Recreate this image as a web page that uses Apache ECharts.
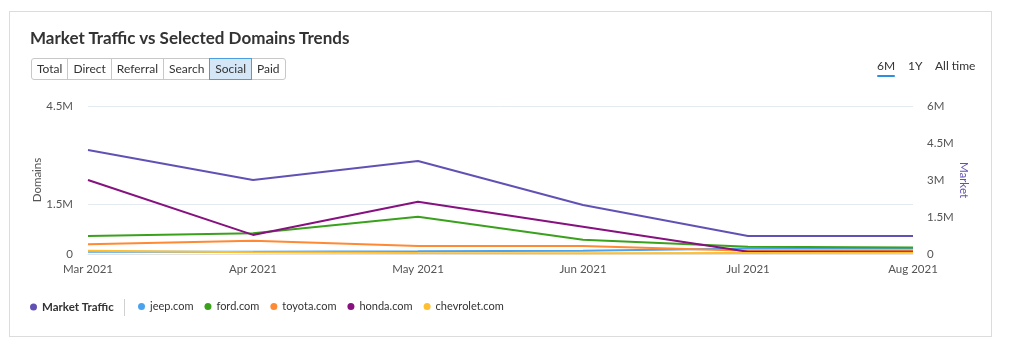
<!DOCTYPE html>
<html>
<head>
<meta charset="utf-8">
<script src="https://cdn.jsdelivr.net/npm/echarts@6/dist/echarts.min.js"></script>
<style>
  html, body { margin: 0; padding: 0; background: #fff; }
  body { width: 1010px; height: 354px; position: relative; overflow: hidden;
         font-family: Lato, "Open Sans", sans-serif; color: #333; }
  .card { position: absolute; left: 9px; top: 11px; width: 983px; height: 326px;
          border: 1px solid #dcdcdc; box-sizing: border-box; }
  #chart { position: absolute; left: 0; top: 0; width: 1010px; height: 354px; }
  .title { position: absolute; left: 30px; top: 27px; font-size: 17px; font-weight: 700;
           color: #333; }
  .btns { position: absolute; left: 31px; top: 58px; display: flex; height: 22px; }
  .btns span { display: block; box-sizing: border-box; height: 22px; line-height: 20px;
               font-size: 12px; padding: 0 5px; border: 1px solid #c8c8c8; margin-left: -1px;
               background: #fff; color: #333; }
  .btns span:first-child { border-radius: 3px 0 0 3px; margin-left: 0; }
  .btns span:last-child { border-radius: 0 3px 3px 0; }
  .btns span.on { background: #d5e7f7; border-color: #4a9fe0; position: relative; }
  .tabs { position: absolute; top: 58px; font-size: 12px; color: #333; }
  .tabs span { position: absolute; white-space: nowrap; }
  .tabs span.on::after { content: ""; position: absolute; left: 0; right: 0; top: 17px;
                         height: 2px; background: #2e8fe0; border-radius: 1px; }
</style>
</head>
<body>
<div class="card"></div>
<div id="chart"></div>
<div class="title">Market Traffic vs Selected Domains Trends</div>
<div class="btns">
  <span>Total</span><span>Direct</span><span>Referral</span><span>Search</span><span class="on">Social</span><span>Paid</span>
</div>
<div class="tabs">
  <span class="on" style="left:877px">6M</span>
  <span style="left:908px">1Y</span>
  <span style="left:935px">All time</span>
</div>
<script>
var months = ["Mar 2021", "Apr 2021", "May 2021", "Jun 2021", "Jul 2021", "Aug 2021"];

var marketTraffic = [4220000, 3000000, 3770000, 1990000, 730000, 730000];
var jeep = [70000, 70000, 80000, 100000, 170000, 170000];
var ford = [550000, 630000, 1130000, 430000, 220000, 200000];
var toyota = [300000, 400000, 240000, 240000, 100000, 100000];
var honda = [2250000, 580000, 1590000, 830000, 70000, 70000];
var chevrolet = [100000, 50000, 30000, 20000, 30000, 40000];

var domainNames = ["jeep.com", "ford.com", "toyota.com", "honda.com", "chevrolet.com"];
var domainData = [jeep, ford, toyota, honda, chevrolet];
var domainColors = ["#4aa3ef", "#3aa11d", "#ff8a33", "#86117f", "#ffbf2f"];
var marketColor = "#6251b5";

function fmt(v) {
  if (v === 0) return "0";
  return (v / 1000000) + "M";
}

var chart = echarts.init(document.querySelector("#chart"), null, { renderer: "canvas" });

var series = [{
  name: "Market Traffic",
  type: "line",
  yAxisIndex: 1,
  data: marketTraffic,
  symbol: "none",
  lineStyle: { width: 2, color: marketColor },
  itemStyle: { color: marketColor },
  z: 3
}];

domainNames.forEach(function (name, i) {
  series.push({
    name: name,
    type: "line",
    yAxisIndex: 0,
    data: domainData[i],
    symbol: "none",
    lineStyle: { width: 2, color: domainColors[i] },
    itemStyle: { color: domainColors[i] },
    z: 2
  });
});

chart.setOption({
  animation: false,
  textStyle: { fontFamily: "Lato, Open Sans, sans-serif" },
  grid: { left: 88, right: 97, top: 106, bottom: 100 },
  legend: [{
    data: ["Market Traffic"],
    left: 30,
    top: 301,
    padding: 0,
    icon: "circle",
    itemWidth: 7,
    itemHeight: 7,
    itemGap: 5,
    textStyle: { fontSize: 11.5, fontWeight: "bold", color: "#333" }
  }, {
    data: domainNames,
    left: 138,
    top: 301,
    padding: 0,
    icon: "circle",
    itemWidth: 7,
    itemHeight: 7,
    itemGap: 11,
    textStyle: { fontSize: 11, color: "#333" }
  }],
  graphic: [{
    type: "line",
    shape: { x1: 124.5, y1: 299, x2: 124.5, y2: 316 },
    style: { stroke: "#d0d0d0", lineWidth: 1 }
  }, {
    // axis titles
    type: "text",
    x: 37, y: 180,
    rotation: Math.PI / 2,
    style: { text: "Domains", fill: "#555", fontSize: 11.5, fontFamily: "Lato",
             align: "center", verticalAlign: "middle" }
  }, {
    type: "text",
    x: 964, y: 180,
    rotation: -Math.PI / 2,
    style: { text: "Market", fill: marketColor, fontSize: 11.5, fontFamily: "Lato",
             align: "center", verticalAlign: "middle" }
  }],
  xAxis: {
    type: "category",
    data: months,
    boundaryGap: false,
    axisLine: { show: true, lineStyle: { color: "#e2e2e2" } },
    axisTick: { show: false },
    axisLabel: { color: "#555", fontSize: 11.5, margin: 9,
                 showMinLabel: true, showMaxLabel: true, interval: 0 }
  },
  yAxis: [{
    type: "value",
    min: 0,
    max: 4500000,
    interval: 1500000,
    axisLine: { show: false },
    axisTick: { show: false },
    axisLabel: {
      color: "#555", fontSize: 11.5, margin: 15,
      formatter: function (v) { return v === 3000000 ? "" : fmt(v); }
    },
    splitLine: { lineStyle: { color: ["transparent", "#e3eaf0", "transparent", "#e3eaf0"] } }
  }, {
    type: "value",
    min: 0,
    max: 6000000,
    interval: 1500000,
    axisLine: { show: false },
    axisTick: { show: false },
    axisLabel: { color: "#555", fontSize: 11.5, margin: 14, formatter: fmt },
    splitLine: { show: false }
  }],
  series: series
});
</script>
</body>
</html>
